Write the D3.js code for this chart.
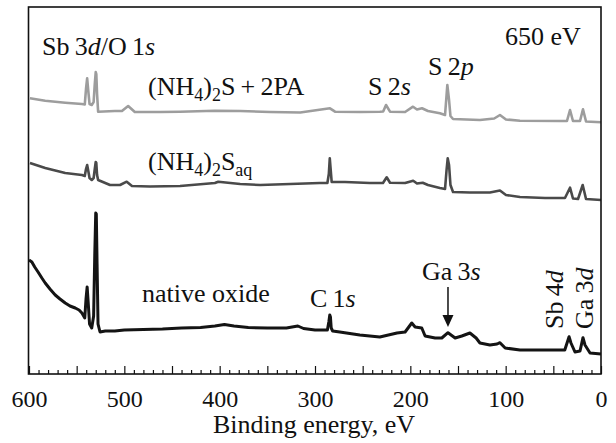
<!DOCTYPE html>
<html>
<head>
<meta charset="utf-8">
<script src="https://cdn.jsdelivr.net/npm/d3@7"></script>
<style>
  body { margin: 0; background: #fff; }
  svg text, svg tspan { font-family: "Liberation Serif", "Tinos", "Times New Roman", "DejaVu Serif", serif !important; fill: #111; }
</style>
</head>
<body>
<div class="chart"></div>
<script>
// Chart size
var svgWidth = 616;
var svgHeight = 443;

// Plot area edges (frame)
var plot = {left: 29, right: 601, top: 7, bottom: 374};
var serif = "'Liberation Serif', Tinos, 'Times New Roman', 'DejaVu Serif', serif";

// Binding energy (eV) / intensity (arb. units)
var nativeE = [600, 597, 594, 590.5, 586.5, 583, 578, 572.5, 567.5, 562, 557, 551.5, 547.5, 544.5, 541.5,
  540.2, 539, 537.8, 536.5, 534.2, 532.2, 531, 530, 529.4, 528.6, 527.6, 525.5,
  520, 510, 500, 480, 460, 440, 420, 405, 395, 385, 370, 350, 330, 318, 312, 300, 290,
  287, 285.5, 284.5, 283.8, 283, 281.5, 274, 253, 232, 214, 205.5,
  198.5, 195, 188, 184.5, 174, 167, 160.5, 153, 146, 137.5, 131, 127, 116.5, 109, 106, 100.5,
  85, 64, 43, 38, 34.6, 33.5, 31.5, 27.3, 22, 18.9, 16.8, 11.5, 0];
var nativeI = [114, 112, 107, 102, 96, 91, 85, 79, 75, 71, 68, 66, 64, 61, 56,
  75, 87, 70, 50, 46, 58, 120, 161, 160, 110, 50, 42,
  43, 43, 44, 44.5, 45, 46, 46.5, 48, 49.5, 48, 46.5, 46, 46, 48, 45.5, 44, 44,
  44, 52, 59, 57, 46, 43, 42, 39, 37, 41, 42,
  51, 47, 46, 38, 36, 36, 41.3, 36, 38, 41, 36, 31, 29, 30, 31.3, 26,
  24, 24, 24, 24, 34, 37.3, 31, 22, 23, 36.3, 29, 21, 20];

var aqE = [599, 583, 562, 544.5, 541.5, 540.2, 539, 537.8, 536.5, 534.2, 532.2, 531, 530, 529.4, 528.6, 527.5,
  515, 504.5, 497.5, 492, 473, 441.5, 405, 401.5, 378.5, 357.5, 326, 295,
  287, 285.5, 284.5, 283.6, 282.5, 268.5, 242.5, 228.7, 224.8, 221.3, 205.5, 197, 193, 187, 181.5, 169,
  163.6, 162, 160.8, 159.4, 157.9, 155.2, 137.5, 116.5, 106, 99.7, 85, 58.7, 37.8, 32.5, 29.4, 24.1, 19.2, 15.7, 0];
var aqI = [211, 206, 201, 199, 198, 205, 209, 203, 196, 194, 196, 205, 212, 211, 199, 194,
  189, 189, 192.3, 188, 187.5, 188, 191, 192.3, 190, 189, 190, 191,
  191, 200, 215.7, 205, 192, 192, 191, 191, 196.7, 191.3, 191, 193.3, 190.5, 191.3, 189, 186,
  185, 204, 215.7, 209, 189, 182, 181.5, 181.5, 183.5, 179, 177, 176, 176, 186.3, 175.5, 175, 189, 175, 174];

var paE = [599, 583, 562, 544.5, 541.5, 540.2, 539, 537.8, 536.5, 534.2, 532.2, 531, 530, 529.4, 528.6, 527.5,
  510, 502.5, 496, 489, 462.5, 441.5, 405, 378.5, 347, 315.5, 284.3, 279, 253, 232,
  228.5, 225.5, 221.3, 205.5, 197.2, 193, 187.8, 181.5, 169,
  163.6, 162.3, 161.2, 159.4, 157.9, 155.2, 127, 112, 106, 99.7, 85, 43, 35.7, 32.5, 29.4, 22, 18.9, 15.7, 0];
var paI = [275.7, 273.3, 271.3, 270, 269.5, 285, 295.7, 283, 270, 269, 272, 290, 302, 300, 280, 262.3,
  263, 263, 268, 262, 262, 262.3, 263.3, 263, 262, 261.5, 265.7, 262.3, 262, 262.3,
  262.5, 269, 262.3, 262, 267.3, 264.5, 265.7, 263, 260.7,
  259, 275, 289, 274, 258, 255, 254, 255.5, 259, 254.5, 253.3, 253, 253, 264, 253, 253, 264.7, 252.5, 251.7];

var seriesNames = ["native oxide", "(NH4)2Saq", "(NH4)2S+2PA"];
var seriesColors = ["#141414", "#4a4a4a", "#9d9d9d"];
var seriesWidths = [3, 2.6, 2.6];

var xTickLabels = [600, 500, 400, 300, 200, 100, 0];

var svg = d3.select(".chart").append("svg")
  .attr("width", svgWidth)
  .attr("height", svgHeight);

// Scales: binding energy runs right to left
var x = d3.scaleLinear().domain([600, 0]).range([plot.left, plot.right]);
var y = d3.scaleLinear().domain([0, 367]).range([plot.bottom, plot.top]);

// Spectra
var line = d3.line()
  .x(function(d) { return x(d[0]); })
  .y(function(d) { return y(d[1]); });

var allSeries = [
  d3.zip(paE, paI),
  d3.zip(aqE, aqI),
  d3.zip(nativeE, nativeI)
];
var order = [2, 1, 0];

allSeries.forEach(function(data, i) {
  var k = order[i];
  svg.append("path")
    .datum(data)
    .attr("d", line)
    .attr("fill", "none")
    .attr("stroke", seriesColors[k])
    .attr("stroke-width", seriesWidths[k])
    .attr("stroke-linejoin", "round");
});

// Frame
svg.append("rect")
  .attr("x", plot.left - 0.5)
  .attr("y", plot.top)
  .attr("width", plot.right - plot.left + 0.5)
  .attr("height", plot.bottom - plot.top)
  .attr("fill", "none")
  .attr("stroke", "#111")
  .attr("stroke-width", 1.6);

// Bottom axis: minor ticks every 10 eV, major every 50, labels every 100
var bottomAxis = d3.axisBottom(x)
  .tickValues(d3.range(0, 601, 10))
  .tickSizeInner(-4)
  .tickSizeOuter(0)
  .tickPadding(16)
  .tickFormat(function(d) { return xTickLabels.indexOf(d) >= 0 ? d : ""; });

var xAxisG = svg.append("g")
  .attr("transform", "translate(0," + plot.bottom + ")")
  .call(bottomAxis)
  .attr("font-family", serif);
xAxisG.select(".domain").remove();
xAxisG.selectAll(".tick line")
  .attr("stroke", "#111")
  .attr("stroke-width", 1.2)
  .attr("y2", function(d) { return d % 50 === 0 ? -8 : -4; });
xAxisG.selectAll(".tick text")
  .attr("font-size", 24)
  .attr("fill", "#111")
  .style("font-family", serif);

svg.append("text")
  .attr("x", 314)
  .attr("y", 433)
  .attr("text-anchor", "middle")
  .attr("font-size", 26)
  .style("font-family", serif)
  .text("Binding energy, eV");

// Peak labels
var fs = 26;
function label(px, py, parts, opts) {
  var t = svg.append("text")
    .attr("x", px)
    .attr("y", py)
    .attr("font-size", fs)
    .style("font-family", serif);
  if (opts && opts.rotate) {
    t.attr("transform", "rotate(-90," + px + "," + py + ")");
  }
  parts.forEach(function(p) {
    var s = t.append("tspan").text(p.t);
    if (p.i) s.attr("font-style", "italic");
    if (p.small) s.attr("font-size", 18);
    if (p.dy) s.attr("dy", p.dy);
  });
  return t;
}

label(42, 55, [{t: "Sb\u20093"}, {t: "d", i: true}, {t: "/O\u20091"}, {t: "s", i: true}]);
label(505, 45, [{t: "650 eV"}]);
label(148, 95, [{t: "(NH"}, {t: "4", small: true, dy: 6}, {t: ")", dy: -6}, {t: "2", small: true, dy: 6}, {t: "S\u2009+\u20092PA", dy: -6}]);
label(148, 170, [{t: "(NH"}, {t: "4", small: true, dy: 6}, {t: ")", dy: -6}, {t: "2", small: true, dy: 6}, {t: "S", dy: -6}, {t: "aq", small: true, dy: 6}]);
label(368, 95, [{t: "S\u20092"}, {t: "s", i: true}]);
label(428, 75, [{t: "S\u20092"}, {t: "p", i: true}]);
label(142, 302, [{t: "native oxide"}]);
label(310, 307, [{t: "C\u20091"}, {t: "s", i: true}]);
label(422, 280, [{t: "Ga\u20093"}, {t: "s", i: true}]);
label(563, 329, [{t: "Sb\u20094"}, {t: "d", i: true}], {rotate: true});
label(593, 329, [{t: "Ga\u20093"}, {t: "d", i: true}], {rotate: true});

// Arrow pointing at Ga 3s
svg.append("line")
  .attr("x1", x(160.5)).attr("y1", 287)
  .attr("x2", x(160.5)).attr("y2", 318)
  .attr("stroke", "#111")
  .attr("stroke-width", 1.5);
svg.append("path")
  .attr("d", d3.line()([[x(160.5) - 5.5, 315], [x(160.5) + 5.5, 315], [x(160.5), 327]]))
  .attr("fill", "#111");
</script>
</body>
</html>
